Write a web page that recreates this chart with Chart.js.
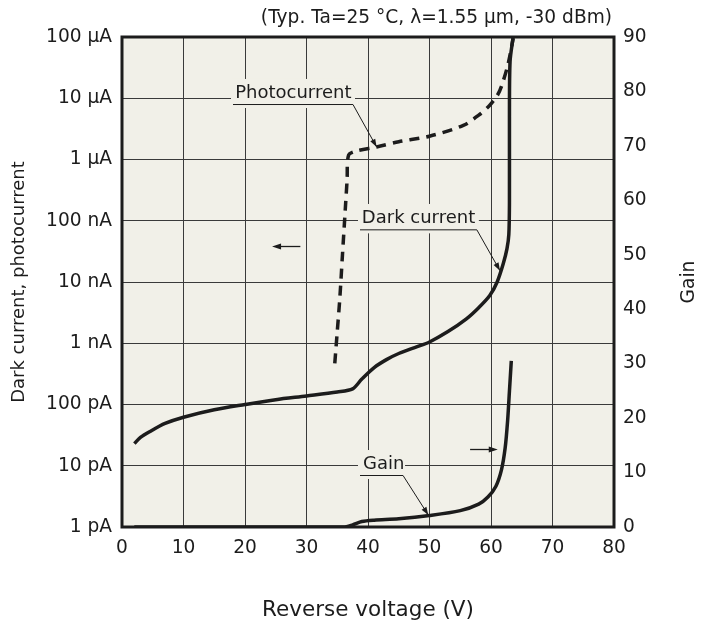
<!DOCTYPE html>
<html><head><meta charset="utf-8">
<script src="https://cdn.jsdelivr.net/npm/chart.js@4"></script>
<style>html,body{margin:0;padding:0;background:#fff;} #c{display:block;}</style>
</head><body>
<canvas id="c" width="723" height="626"></canvas>
<script>
// ---- axis ticks ----
const voltageTicks = [0, 10, 20, 30, 40, 50, 60, 70, 80];
const currentTickValues = [1e-12, 1e-11, 1e-10, 1e-9, 1e-8, 1e-7, 1e-6, 1e-5, 1e-4];
const currentTickLabels = ['1 pA', '10 pA', '100 pA', '1 nA', '10 nA', '100 nA', '1 µA', '10 µA', '100 µA'];
const gainTicks = [0, 10, 20, 30, 40, 50, 60, 70, 80, 90];

// ---- series ----
const darkV = [2, 3, 4.5, 7, 10, 15, 20, 25, 30, 35, 37.5, 39, 41, 43, 45, 48, 50, 53, 56, 58, 59.8, 61, 62, 62.6, 62.9, 63.0, 63.0, 63.1, 63.6];
const darkI = [2.3e-11, 2.9e-11, 3.6e-11, 4.9e-11, 6.2e-11, 8.2e-11, 1.0e-10, 1.2e-10, 1.38e-10, 1.6e-10, 1.8e-10, 2.6e-10, 4.0e-10, 5.4e-10, 6.8e-10, 8.8e-10, 1.05e-9, 1.55e-9, 2.5e-9, 3.8e-9, 6.0e-9, 1.0e-8, 2.0e-8, 3.5e-8, 6e-8, 2e-7, 5e-6, 4e-5, 1e-4];

const photoV = [34.6, 35.0, 35.4, 35.85, 36.3, 36.6, 36.85, 38.1, 41.4, 45, 50, 55.5, 58, 59.8, 61.0, 61.7, 62.8, 63.6];
const photoI = [4.7e-10, 1.55e-9, 5.1e-9, 2.8e-8, 1.5e-7, 4.6e-7, 1.18e-6, 1.38e-6, 1.6e-6, 1.95e-6, 2.4e-6, 3.6e-6, 5.3e-6, 7.7e-6, 1.1e-5, 1.56e-5, 3.7e-5, 9.5e-5];

const gainV = [2, 36, 37.5, 39, 41, 45, 50, 55, 58, 59.5, 60.8, 61.7, 62.3, 62.7, 63.0, 63.3];
const gainG = [0, 0, 0.4, 1.0, 1.25, 1.5, 2.1, 3.0, 4.2, 5.5, 7.5, 10.5, 14.5, 19.5, 25, 30.5];

// ---- annotations (data coordinates) ----
const calloutLabels = [
  { text: 'Photocurrent', axis: 'y', textV: 18.4, textY: 1.22e-5, underFrom: 18.05, underTo: 37.56, underY: 8.05e-6, tipV: 41.4, tipY: 1.6e-6 },
  { text: 'Dark current', axis: 'y', textV: 39.0, textY: 1.11e-7, underFrom: 38.7, underTo: 57.7, underY: 7.24e-8, tipV: 61.46, tipY: 1.53e-8 },
  { text: 'Gain', axis: 'y2', textV: 39.2, textY: 11.57, underFrom: 38.7, underTo: 45.7, underY: 9.55, tipV: 49.8, tipY: 2.2 }
];
const directionArrows = [
  { axis: 'y', from: 29.0, to: 24.4, at: 3.87e-8 },
  { axis: 'y2', from: 56.6, to: 61.1, at: 14.33 }
];
const subtitle = '(Typ. Ta=25 °C, λ=1.55 µm, -30 dBm)';
const rightTitle = 'Gain';

const INK = '#1c1c1c';
const FONT = "'DejaVu Sans', sans-serif";
const FS = 18.6;
Chart.defaults.font.family = FONT;
Chart.defaults.font.size = FS;
Chart.defaults.color = INK;

function pts(xs, ys) { return xs.map((v, i) => ({ x: v, y: ys[i] })); }

function arrowHead(ctx, x1, y1, x2, y2, len, half) {
  const a = Math.atan2(y2 - y1, x2 - x1);
  ctx.beginPath();
  ctx.moveTo(x2, y2);
  ctx.lineTo(x2 - len * Math.cos(a) + half * Math.sin(a), y2 - len * Math.sin(a) - half * Math.cos(a));
  ctx.lineTo(x2 - len * Math.cos(a) - half * Math.sin(a), y2 - len * Math.sin(a) + half * Math.cos(a));
  ctx.closePath();
  ctx.fill();
}

const decorPlugin = {
  id: 'decor',
  beforeDraw(chart) {
    const { ctx, chartArea: a } = chart;
    ctx.save();
    ctx.fillStyle = '#f1f0e8';
    ctx.fillRect(a.left, a.top, a.right - a.left, a.bottom - a.top);
    ctx.restore();
  },
  afterDatasetsDraw(chart) {
    const { ctx, chartArea: a, scales } = chart;
    const xs = scales.x;
    ctx.save();
    ctx.font = '18px ' + FONT;
    ctx.textBaseline = 'middle';
    ctx.textAlign = 'left';
    calloutLabels.forEach(c => {
      const ys = scales[c.axis];
      const tx = xs.getPixelForValue(c.textV), ty = ys.getPixelForValue(c.textY);
      const ux1 = xs.getPixelForValue(c.underFrom), ux2 = xs.getPixelForValue(c.underTo);
      const uy = ys.getPixelForValue(c.underY);
      const px = xs.getPixelForValue(c.tipV), py = ys.getPixelForValue(c.tipY);
      const w = ctx.measureText(c.text).width;
      ctx.fillStyle = '#f1f0e8';
      ctx.fillRect(Math.min(tx, ux1) - 2, ty - 14, Math.max(w, ux2 - ux1) + 4, uy - ty + 18);
      ctx.fillStyle = INK;
      ctx.fillText(c.text, tx, ty);
      ctx.strokeStyle = INK;
      ctx.lineWidth = 1;
      ctx.beginPath();
      ctx.moveTo(ux1, uy + 0.5);
      ctx.lineTo(ux2, uy + 0.5);
      ctx.lineTo(px, py);
      ctx.stroke();
      arrowHead(ctx, ux2, uy, px, py, 8, 2.8);
    });
    directionArrows.forEach(d => {
      const ys = scales[d.axis];
      const x1 = xs.getPixelForValue(d.from), x2 = xs.getPixelForValue(d.to);
      const y = Math.round(ys.getPixelForValue(d.at)) + 0.5;
      ctx.strokeStyle = INK;
      ctx.fillStyle = INK;
      ctx.lineWidth = 1.3;
      ctx.beginPath();
      ctx.moveTo(x1, y);
      ctx.lineTo(x2 - Math.sign(x2 - x1) * 4, y);
      ctx.stroke();
      arrowHead(ctx, x1, y, x2, y, 9, 3);
    });
    // frame
    ctx.strokeStyle = INK;
    ctx.lineWidth = 3;
    ctx.strokeRect(a.left, a.top, a.right - a.left, a.bottom - a.top);
    // subtitle
    ctx.font = FS + 'px ' + FONT;
    ctx.fillStyle = INK;
    ctx.textAlign = 'right';
    ctx.fillText(subtitle, a.right - 2, a.top - 19);
    // right axis title
    ctx.save();
    ctx.translate(scales.y2.right - 34, (a.top + a.bottom) / 2);
    ctx.rotate(-Math.PI / 2);
    ctx.textAlign = 'center';
    ctx.fillText(rightTitle, 0, 0);
    ctx.restore();
    ctx.restore();
  }
};

const lineStyle = { borderColor: INK, borderWidth: 3.5, pointRadius: 0, fill: false, tension: 0.3, borderCapStyle: 'butt' };

new Chart(document.getElementById('c'), {
  type: 'line',
  data: {
    datasets: [
      Object.assign({ label: 'Dark current', data: pts(darkV, darkI), yAxisID: 'y' }, lineStyle),
      Object.assign({ label: 'Photocurrent', data: pts(photoV, photoI), yAxisID: 'y', borderDash: [10, 7] }, lineStyle),
      Object.assign({ label: 'Gain', data: pts(gainV, gainG), yAxisID: 'y2' }, lineStyle)
    ]
  },
  options: {
    responsive: false,
    animation: false,
    layout: { padding: { top: 37, left: 0, right: 0, bottom: 0 } },
    plugins: { legend: { display: false }, tooltip: { enabled: false } },
    scales: {
      x: {
        type: 'linear', min: 0, max: 80,
        afterBuildTicks: s => { s.ticks = voltageTicks.map(v => ({ value: v })); },
        afterFit: s => { s.height = 99; },
        grid: { color: '#3a3a3a', lineWidth: 1, drawTicks: false },
        border: { display: false },
        ticks: { padding: 10, maxRotation: 0, autoSkip: false, color: INK },
        title: { display: true, text: 'Reverse voltage (V)', font: { size: 21.5 }, color: INK, padding: { top: 0, bottom: 3 } }
      },
      y: {
        type: 'logarithmic', position: 'left', min: 1e-12, max: 1e-4,
        afterBuildTicks: s => { s.ticks = currentTickValues.map(v => ({ value: v })); },
        afterFit: s => { s.width = 122; },
        grid: { color: '#3a3a3a', lineWidth: 1, drawTicks: false },
        border: { display: false },
        ticks: { padding: 10, autoSkip: false, color: INK, callback: (v, i) => currentTickLabels[i] },
        title: { display: true, text: 'Dark current, photocurrent', font: { size: 18 }, color: INK, padding: { top: 9, bottom: 0 } }
      },
      y2: {
        type: 'linear', position: 'right', min: 0, max: 90,
        afterBuildTicks: s => { s.ticks = gainTicks.map(v => ({ value: v })); },
        afterFit: s => { s.width = 109; },
        grid: { display: false, drawTicks: false },
        border: { display: false },
        ticks: { padding: 9, autoSkip: false, color: INK, callback: (v, i) => String(gainTicks[i]) }
      }
    }
  },
  plugins: [decorPlugin]
});
</script>
</body></html>
